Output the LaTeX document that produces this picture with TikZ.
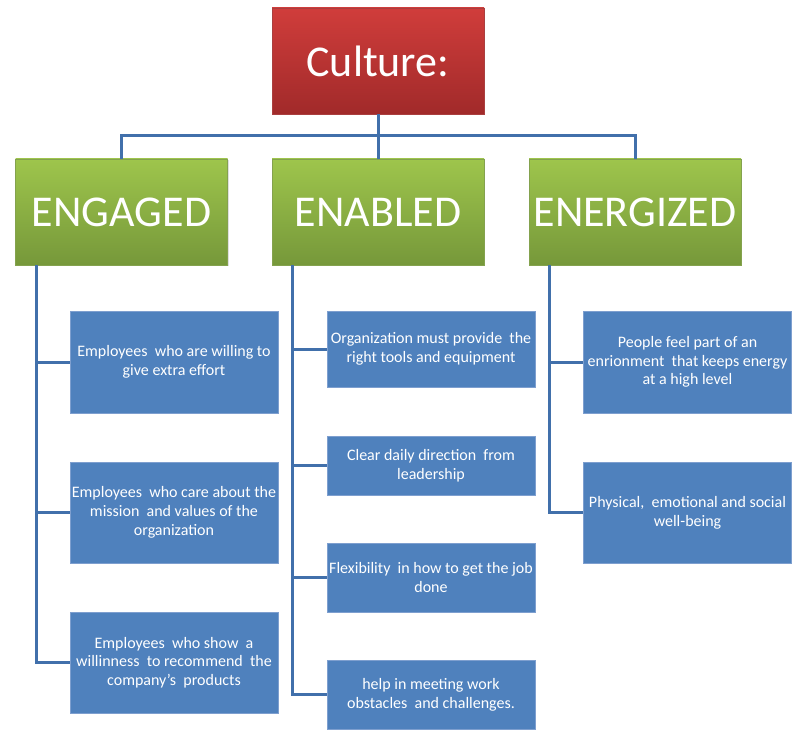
\documentclass[tikz,border=0pt]{standalone}
\usepackage{fontspec}
\setmainfont{Carlito}
\usetikzlibrary{shadows}

\definecolor{linkblue}{HTML}{4170AB}
\definecolor{boxblue}{HTML}{4F81BD}
\definecolor{boxedge}{HTML}{7E9FCF}
\definecolor{redtop}{HTML}{D03D3B}
\definecolor{redbot}{HTML}{A12A2A}
\definecolor{greentop}{HTML}{9EC54C}
\definecolor{greenbot}{HTML}{76983A}

\tikzset{
  head/.style={minimum width=212pt, minimum height=106pt, inner sep=0pt, text=white,
    font=\fontsize{44}{50}\selectfont, drop shadow={shadow xshift=1pt, shadow yshift=-1.5pt, opacity=0.25}},
  culturebox/.style={head, top color=redtop, bottom color=redbot, draw=redbot!90},
  pillar/.style={head, top color=greentop, bottom color=greenbot, draw=greenbot!90},
  item/.style={minimum width=208pt, inner sep=0pt, fill=boxblue, draw=boxedge, line width=0.8pt,
    text=white, align=center, font=\fontsize{16}{18.7}\selectfont},
  link/.style={draw=linkblue, line width=3pt}
}

\begin{document}
\begin{tikzpicture}[x=1pt, y=-1pt]
  \useasboundingbox (0,0) rectangle (801,730);

  \node[culturebox] (culture) at (378,61) {Culture:};
  \node[pillar] (engaged) at (121.5,212) {ENGAGED};
  \node[pillar] (enabled) at (378,212) {ENABLED};
  \node[pillar] (energized) at (635,212) {ENERGIZED};

  % engaged
  \node[item, minimum height=102pt] (eng1) at (174,362) {Employees~ who are willing to\\give extra effort};
  \node[item, minimum height=101pt] (eng2) at (174,512.5) {Employees~ who care about the\\mission~ and values of the\\organization};
  \node[item, minimum height=101pt] (eng3) at (174,662.5) {Employees~ who show~ a\\willinness~ to recommend~ the\\company's~ products};

  % enabled
  \node[item, minimum height=76pt] (ena1) at (431,349) {Organization must provide~ the\\right tools and equipment};
  \node[item, minimum height=59pt] (ena2) at (431,465.5) {Clear daily direction~ from\\leadership};
  \node[item, minimum height=69pt] (ena3) at (431,577.5) {Flexibility~ in how to get the job\\done};
  \node[item, minimum height=69pt] (ena4) at (431,694.5) {help in meeting work\\obstacles~ and challenges.};

  % energized
  \node[item, minimum height=102pt] (ene1) at (687.5,362) {People feel part of an\\enrionment~ that keeps energy\\at a high level};
  \node[item, minimum height=101pt] (ene2) at (687.5,512.5) {Physical,~ emotional and social\\well-being};

  % tree lines
  \coordinate (bus) at (378,136);
  \draw[link] (culture.south) -- (bus) -- (enabled.north);
  \draw[link] (engaged.north) |- (bus) -| (energized.north);

  \coordinate (engspine) at ([xshift=21pt]engaged.south west);
  \coordinate (enaspine) at ([xshift=21pt]enabled.south west);
  \coordinate (enespine) at ([xshift=21pt]energized.south west);
  \draw[link] (engspine) |- (eng3.west);
  \draw[link] (enaspine) |- (ena4.west);
  \draw[link] (enespine) |- (ene2.west);
  \foreach \b in {eng1,eng2} \draw[link] (engspine |- \b.west) -- (\b.west);
  \foreach \b in {ena1,ena2,ena3} \draw[link] (enaspine |- \b.west) -- (\b.west);
  \draw[link] (enespine |- ene1.west) -- (ene1.west);
\end{tikzpicture}
\end{document}
